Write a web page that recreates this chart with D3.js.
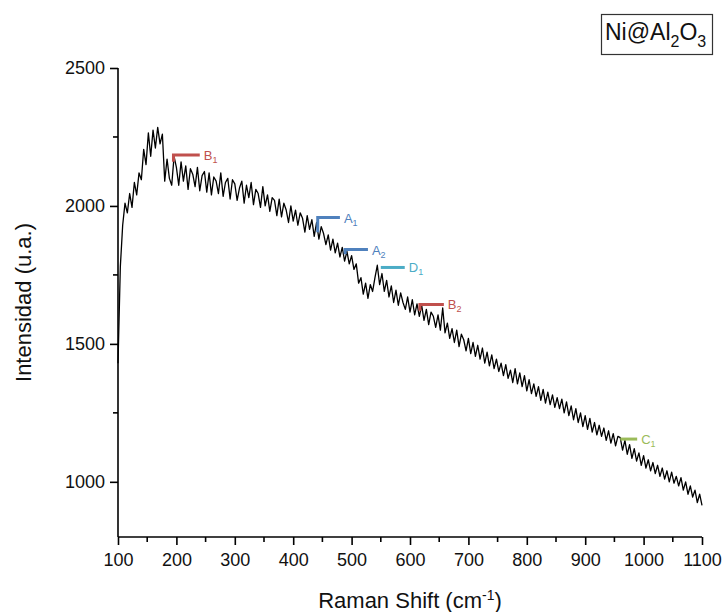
<!DOCTYPE html>
<html>
<head>
<meta charset="utf-8">
<script src="https://cdn.jsdelivr.net/npm/d3@7"></script>
<style>
  body { margin: 0; background: #fff; }
  svg { display: block; }
  text { font-family: "Liberation Sans", Arial, sans-serif; }
</style>
</head>
<body>
<svg id="chart" width="725" height="612"></svg>
<script>
// Raman shift (cm-1) sampled every 4 cm-1 from 100 to 1100
const shiftStart = 100, shiftStep = 4;
const intensity = [
  1430, 1780, 1930, 2010, 1975, 2045, 1995, 2085, 2040, 2120,
  2095, 2205, 2150, 2265, 2180, 2275, 2210, 2285, 2225, 2260,
  2090, 2170, 2100, 2075, 2180, 2140, 2075, 2160, 2090, 2145,
  2060, 2135, 2115, 2070, 2140, 2055, 2110, 2125, 2050, 2120,
  2040, 2105, 2090, 2045, 2120, 2035, 2085, 2100, 2025, 2095,
  2080, 2020, 2065, 2090, 2010, 2075, 2030, 2085, 2005, 2060,
  2045, 1995, 2070, 2000, 2040, 1980, 2030, 2020, 1965, 2025,
  1960, 2010, 1985, 1940, 2000, 1945, 1985, 1930, 1975, 1955,
  1905, 1965, 1915, 1950, 1890, 1940, 1880, 1925, 1900, 1860,
  1895, 1840, 1880, 1830, 1865, 1815, 1850, 1800, 1835, 1790,
  1820, 1770, 1790, 1720, 1740, 1680, 1720, 1665, 1715, 1690,
  1740, 1785, 1715, 1755, 1690, 1730, 1670, 1710, 1650, 1695,
  1640, 1685, 1650, 1625, 1670, 1615, 1660, 1605, 1645, 1600,
  1640, 1585, 1625, 1570, 1615, 1600, 1560, 1605, 1550, 1630,
  1540, 1575, 1520, 1555, 1505, 1550, 1490, 1535, 1515, 1475,
  1520, 1465, 1505, 1455, 1495, 1445, 1485, 1430, 1470, 1420,
  1460, 1410, 1445, 1400, 1430, 1385, 1425, 1375, 1405, 1360,
  1410, 1355, 1395, 1345, 1385, 1330, 1370, 1320, 1355, 1310,
  1345, 1295, 1335, 1285, 1325, 1280, 1315, 1270, 1305, 1265,
  1300, 1250, 1290, 1240, 1275, 1225, 1265, 1215, 1250, 1200,
  1240, 1190, 1230, 1180, 1215, 1170, 1205, 1165, 1195, 1150,
  1185, 1140, 1175, 1130, 1165, 1160, 1115, 1150, 1100, 1135,
  1085, 1120, 1075, 1105, 1060, 1095, 1050, 1080, 1040, 1070,
  1030, 1060, 1020, 1050, 1010, 1040, 1000, 1035, 995, 1020,
  985, 1015, 970, 1000, 955, 985, 945, 970, 925, 955,
  915
];

const xTicks = [100, 200, 300, 400, 500, 600, 700, 800, 900, 1000, 1100];
const yTicks = [1000, 1500, 2000, 2500];

// Band markers: label, subscript, start, end, level, colour
const markerNames = ["B", "A", "A", "D", "B", "C"];
const markerSubs  = ["1", "1", "2", "1", "2", "1"];
const markerStart = [195, 442, 489, 550, 617, 960];
const markerEnd   = [240, 480, 528, 591, 658, 989];
const markerLevel = [2185, 1958, 1842, 1777, 1643, 1155];
const markerDrop  = [2160, 1905, 1825, 1777, 1620, 1155];
const markerColor = ["#c0504d", "#4f81bd", "#4f81bd", "#4bacc6", "#c0504d", "#9bbb59"];

const svg = d3.select("#chart");
const mLeft = 118, mRight = 702, mTop = 68, mBottom = 537;

const x = d3.scaleLinear().domain([100, 1100]).range([mLeft, mRight]);
const y = d3.scaleLinear().domain([800, 2500]).range([mBottom, mTop]);

// X axis
const xAxis = d3.axisBottom(x).tickValues(xTicks).tickSize(8).tickPadding(8).tickFormat(d3.format("d"));
const gx = svg.append("g").attr("transform", `translate(0,${mBottom})`).call(xAxis);
gx.selectAll(".tick line").attr("stroke", "#000").attr("stroke-width", 1.6);
gx.select(".domain").attr("stroke", "#000").attr("stroke-width", 1.6).attr("d", `M${mLeft},0H${mRight}`);
gx.selectAll("text").attr("font-size", 18).attr("fill", "#111");
gx.selectAll(".minor").data(d3.range(150, 1100, 100)).enter().append("line")
  .attr("x1", d => x(d)).attr("x2", d => x(d)).attr("y1", 0).attr("y2", 5)
  .attr("stroke", "#000").attr("stroke-width", 1.6);

// Y axis
const yAxis = d3.axisLeft(y).tickValues(yTicks).tickSize(8).tickPadding(5).tickFormat(d3.format("d"));
const gy = svg.append("g").attr("transform", `translate(${mLeft},0)`).call(yAxis);
gy.selectAll(".tick line").attr("stroke", "#000").attr("stroke-width", 1.6);
gy.select(".domain").attr("stroke", "#000").attr("stroke-width", 1.6).attr("d", `M0,${mTop}V${mBottom}`);
gy.selectAll("text").attr("font-size", 18).attr("fill", "#111");
gy.selectAll(".minor").data([1250, 1750, 2250]).enter().append("line")
  .attr("x1", 0).attr("x2", -5).attr("y1", d => y(d)).attr("y2", d => y(d))
  .attr("stroke", "#000").attr("stroke-width", 1.6);

// Axis titles
const xt = svg.append("text").attr("x", (mLeft + mRight) / 2).attr("y", 608)
  .attr("text-anchor", "middle").attr("font-size", 22).attr("fill", "#111");
xt.append("tspan").text("Raman Shift (cm");
xt.append("tspan").attr("dy", -8).attr("font-size", 14).text("-1");
xt.append("tspan").attr("dy", 8).text(")");

svg.append("text").attr("transform", `translate(31,${(mTop + mBottom) / 2}) rotate(-90)`)
  .attr("text-anchor", "middle").attr("font-size", 22).attr("fill", "#111")
  .text("Intensidad (u.a.)");

// Spectrum
const data = intensity.map((v, i) => [shiftStart + i * shiftStep, v]);
svg.append("path").datum(data)
  .attr("fill", "none").attr("stroke", "#000").attr("stroke-width", 1.3)
  .attr("stroke-linejoin", "round")
  .attr("d", d3.line().x(d => x(d[0])).y(d => y(d[1])));

// Markers
markerNames.forEach((n, i) => {
  const g = svg.append("g");
  g.append("path")
    .attr("d", `M${x(markerStart[i])},${y(markerDrop[i])}V${y(markerLevel[i])}H${x(markerEnd[i])}`)
    .attr("fill", "none").attr("stroke", markerColor[i]).attr("stroke-width", 3);
  const t = g.append("text").attr("x", x(markerEnd[i]) + 4).attr("y", y(markerLevel[i]) + 5)
    .attr("font-size", 13).attr("fill", markerColor[i]).attr("font-family", "'Open Sans', sans-serif");
  t.append("tspan").text(n);
  t.append("tspan").attr("dy", 3).attr("font-size", 9).text(markerSubs[i]);
});

// Legend box
svg.append("rect").attr("x", 601.5).attr("y", 14.5).attr("width", 111).attr("height", 40)
  .attr("fill", "#fff").attr("stroke", "#333").attr("stroke-width", 1.2);
const lt = svg.append("text").attr("x", 605).attr("y", 40).attr("font-size", 23).attr("fill", "#111");
lt.append("tspan").text("Ni@Al");
lt.append("tspan").attr("dy", 7).attr("font-size", 16).text("2");
lt.append("tspan").attr("dy", -7).text("O");
lt.append("tspan").attr("dy", 7).attr("font-size", 16).text("3");
</script>
</body>
</html>
